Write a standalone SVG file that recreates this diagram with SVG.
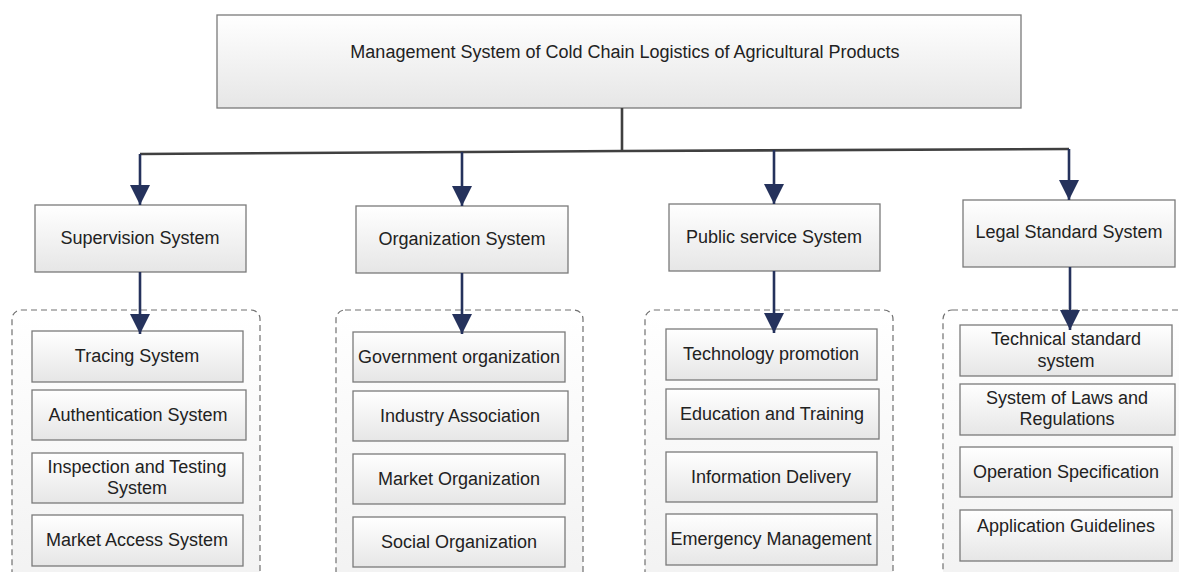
<svg xmlns="http://www.w3.org/2000/svg" width="1179" height="572" viewBox="0 0 1179 572">
<defs>
<linearGradient id="g" x1="0" y1="0" x2="0" y2="1">
<stop offset="0" stop-color="#ffffff"/>
<stop offset="1" stop-color="#e6e6e6"/>
</linearGradient>
<linearGradient id="gc" x1="0" y1="0" x2="0" y2="1">
<stop offset="0" stop-color="#ffffff"/>
<stop offset="1" stop-color="#f2f2f2"/>
</linearGradient>
<marker id="ah" markerUnits="userSpaceOnUse" markerWidth="20" markerHeight="20" refX="20" refY="10" orient="auto" viewBox="0 0 20 20">
<path d="M0,0 L20,10 L0,20 Z" fill="#25325c"/>
</marker>
</defs>
<style>
.box{fill:url(#g);stroke:#7a7a7a;stroke-width:1.3}
.cont{fill:url(#gc);stroke:#707070;stroke-width:1.2;stroke-dasharray:6,4}
text{font-family:"Liberation Sans",Arial,sans-serif;font-size:18px;fill:#222;text-anchor:middle}
.arr{stroke:#25325c;stroke-width:2.6;fill:none;marker-end:url(#ah)}
.ln{stroke:#404040;stroke-width:2.6;fill:none}
</style>
<rect width="1179" height="572" fill="#ffffff"/>
<g id="containers">
<rect class="cont" x="12" y="310" width="248" height="280" rx="9"/>
<rect class="cont" x="336" y="310" width="247" height="280" rx="9"/>
<rect class="cont" x="645" y="310" width="248" height="280" rx="9"/>
<rect class="cont" x="943" y="310" width="260" height="280" rx="9"/>
</g>
<g id="root">
<rect class="box" x="217" y="15" width="804" height="93"/>
<text x="625" y="58">Management System of Cold Chain Logistics of Agricultural Products</text>
</g>
<g id="supervision">
<rect class="box" x="35" y="205" width="211" height="67"/>
<text x="140" y="244">Supervision System</text>
</g>
<g id="organization">
<rect class="box" x="356" y="206" width="212" height="67"/>
<text x="462" y="245">Organization System</text>
</g>
<g id="public">
<rect class="box" x="669" y="204" width="211" height="67"/>
<text x="774" y="243">Public service System</text>
</g>
<g id="legal">
<rect class="box" x="963" y="200" width="212" height="67"/>
<text x="1069" y="238">Legal Standard System</text>
</g>
<g id="tracing"><rect class="box" x="32" y="331" width="211" height="51"/><text x="137" y="362">Tracing System</text></g>
<g id="authentication"><rect class="box" x="32" y="390" width="214" height="50"/><text x="138" y="421">Authentication System</text></g>
<g id="inspection"><rect class="box" x="32" y="453" width="211" height="50"/><text x="137" y="473">Inspection and Testing</text><text x="137" y="494">System</text></g>
<g id="market-access"><rect class="box" x="32" y="515" width="211" height="51"/><text x="137" y="546">Market Access System</text></g>
<g id="government"><rect class="box" x="353" y="332" width="212" height="50"/><text x="459" y="363">Government organization</text></g>
<g id="industry"><rect class="box" x="353" y="391" width="215" height="50"/><text x="460" y="422">Industry Association</text></g>
<g id="market-org"><rect class="box" x="353" y="454" width="212" height="50"/><text x="459" y="485">Market Organization</text></g>
<g id="social"><rect class="box" x="353" y="517" width="212" height="50"/><text x="459" y="548">Social Organization</text></g>
<g id="technology"><rect class="box" x="666" y="329" width="211" height="51"/><text x="771" y="360">Technology promotion</text></g>
<g id="education"><rect class="box" x="666" y="389" width="213" height="50"/><text x="772" y="420">Education and Training</text></g>
<g id="information"><rect class="box" x="666" y="452" width="211" height="50"/><text x="771" y="483">Information Delivery</text></g>
<g id="emergency"><rect class="box" x="666" y="514" width="211" height="51"/><text x="771" y="545">Emergency Management</text></g>
<g id="technical"><rect class="box" x="960" y="325" width="212" height="51"/><text x="1066" y="345">Technical standard</text><text x="1066" y="367">system</text></g>
<g id="laws"><rect class="box" x="960" y="384" width="215" height="51"/><text x="1067" y="404">System of Laws and</text><text x="1067" y="425">Regulations</text></g>
<g id="operation"><rect class="box" x="960" y="447" width="212" height="50"/><text x="1066" y="478">Operation Specification</text></g>
<g id="application"><rect class="box" x="960" y="510" width="212" height="51"/><text x="1066" y="532">Application Guidelines</text></g>
<g id="connectors">
<path class="ln" d="M622,108 L622,151"/>
<path class="ln" d="M140,154 L622,151 L1069,149"/>
<path class="arr" d="M140,154 L140,205"/>
<path class="arr" d="M462,152 L462,206"/>
<path class="arr" d="M774,150 L774,204"/>
<path class="arr" d="M1069,149 L1069,200"/>
<path class="arr" d="M140,272 L140,334"/>
<path class="arr" d="M462,273 L462,334"/>
<path class="arr" d="M774,271 L774,333"/>
<path class="arr" d="M1070,267 L1070,330"/>
</g>
</svg>
